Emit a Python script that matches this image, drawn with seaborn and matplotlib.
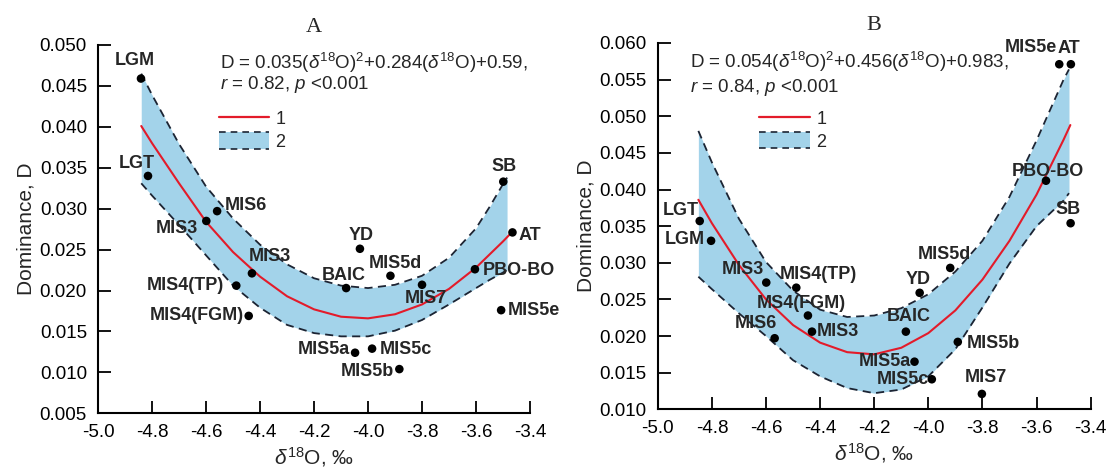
import numpy as np
import matplotlib
matplotlib.use("Agg")
import matplotlib.pyplot as plt
import seaborn as sns
from matplotlib.lines import Line2D
from matplotlib.patches import Patch, Rectangle
from matplotlib.legend_handler import HandlerBase

# ---------------- data ----------------
x_ticks = [-5.0, -4.8, -4.6, -4.4, -4.2, -4.0, -3.8, -3.6, -3.4]
yticks_a = [0.005, 0.010, 0.015, 0.020, 0.025, 0.030, 0.035, 0.040, 0.045, 0.050]
yticks_b = [0.010, 0.015, 0.020, 0.025, 0.030, 0.035, 0.040, 0.045, 0.050, 0.055, 0.060]

labels_a = ["LGM", "LGT", "MIS6", "MIS3", "MIS3", "MIS4(TP)", "MIS4(FGM)", "YD", "MIS5d",
            "BAIC", "MIS7", "PBO-BO", "MIS5e", "MIS5a", "MIS5c", "MIS5b", "SB", "AT"]
x_a = [-4.841, -4.815, -4.559, -4.599, -4.430, -4.488, -4.442, -4.030, -3.917,
       -4.081, -3.800, -3.604, -3.507, -4.048, -3.985, -3.884, -3.499, -3.465]
d_a = [0.0459, 0.0340, 0.0297, 0.0285, 0.0221, 0.0206, 0.0169, 0.0251, 0.0218,
       0.0203, 0.0207, 0.0226, 0.0176, 0.0124, 0.0129, 0.0104, 0.0333, 0.0271]

band_x_a = [-4.84, -4.80, -4.70, -4.60, -4.50, -4.40, -4.30, -4.20, -4.10, -4.00,
            -3.90, -3.80, -3.70, -3.60, -3.55, -3.50, -3.485]
upper_a = [0.0465, 0.0439, 0.0379, 0.0327, 0.0288, 0.0256, 0.0232, 0.0215, 0.0206, 0.0203,
           0.0207, 0.0218, 0.0240, 0.0276, 0.0302, 0.0330, 0.0338]
lower_a = [0.0331, 0.0316, 0.0280, 0.0243, 0.0206, 0.0179, 0.0158, 0.0148, 0.0144, 0.0144,
           0.0151, 0.0164, 0.0183, 0.0203, 0.0213, 0.0222, 0.0225]
fit_x_a = [-4.84, -4.80, -4.70, -4.60, -4.50, -4.40, -4.30, -4.20, -4.10, -4.00,
           -3.90, -3.80, -3.70, -3.60, -3.50, -3.465]
fit_a = [0.0401, 0.0380, 0.0331, 0.0284, 0.0247, 0.0217, 0.0193, 0.0177, 0.0168, 0.0166,
         0.0171, 0.0183, 0.0202, 0.0228, 0.0260, 0.0272]

labels_b = ["LGT", "LGM", "MIS3", "MIS4(TP)", "MS4(FGM)", "MIS3", "MIS6", "YD", "MIS5d",
            "BAIC", "MIS5b", "MIS5a", "MIS5c", "MIS7", "PBO-BO", "SB", "MIS5e", "AT"]
x_b = [-4.845, -4.803, -4.599, -4.488, -4.445, -4.430, -4.568, -4.032, -3.919,
       -4.083, -3.891, -4.051, -3.987, -3.802, -3.565, -3.474, -3.516, -3.473]
d_b = [0.0357, 0.0330, 0.0273, 0.0266, 0.0228, 0.0206, 0.0197, 0.0259, 0.0293,
       0.0206, 0.0192, 0.0165, 0.0141, 0.0121, 0.0412, 0.0354, 0.0571, 0.0571]

band_x_b = [-4.85, -4.80, -4.70, -4.60, -4.50, -4.40, -4.30, -4.20, -4.10, -4.00,
            -3.90, -3.80, -3.70, -3.60, -3.50, -3.48]
upper_b = [0.0480, 0.0437, 0.0360, 0.0301, 0.0262, 0.0236, 0.0226, 0.0228, 0.0238, 0.0257,
           0.0288, 0.0330, 0.0390, 0.0467, 0.0550, 0.0564]
lower_b = [0.0281, 0.0264, 0.0231, 0.0200, 0.0167, 0.0145, 0.0129, 0.0122, 0.0127, 0.0145,
           0.0182, 0.0239, 0.0299, 0.0350, 0.0385, 0.0395]
fit_x_b = [-4.85, -4.80, -4.70, -4.60, -4.50, -4.40, -4.30, -4.20, -4.10, -4.00,
           -3.90, -3.80, -3.70, -3.60, -3.50, -3.475]
fit_b = [0.0386, 0.0354, 0.0297, 0.0250, 0.0215, 0.0191, 0.0178, 0.0175, 0.0184, 0.0204,
         0.0235, 0.0277, 0.0330, 0.0393, 0.0468, 0.0488]

eq_a = [r"D = 0.035($\delta^{18}$O)$^{2}$+0.284($\delta^{18}$O)+0.59,",
        r"$r$ = 0.82, $p$ <0.001"]
eq_b = [r"D = 0.054($\delta^{18}$O)$^{2}$+0.456($\delta^{18}$O)+0.983,",
        r"$r$ = 0.84, $p$ <0.001"]
legend_labels = ["1", "2"]

# ---------------- label placement (style, image-pixel offsets) ----------------
place_a = [("center", -6, -18), ("center", -11, -12), ("left", 8, -6), ("right", -8, 8),
           ("left", -3, -17), ("right", -12, 0), ("right", -5, 0), ("center", 1, -13),
           ("center", 5, -12), ("center", -2, -13), ("center", 4, 14), ("left", 8, 1),
           ("left", 7, 0), ("right", -5, -3), ("left", 8, 1), ("right", -5, 2),
           ("center", 1, -15), ("left", 6, 3)]
place_b = [("right", -1, -11), ("right", -6, -1), ("right", -2, -13), ("left", -17, -13),
           ("center", -7, -12), ("left", 5, 0), ("right", 2, -15), ("center", -1, -13),
           ("center", -6, -13), ("center", 3, -15), ("left", 9, 2), ("right", -4, 0),
           ("right", -3, 0), ("center", 4, -16), ("center", 2, -9), ("center", -3, -14),
           ("right", -2, -17), ("center", -2, -16)]

BAND = "#a3d3ea"
RED = "#e31b2a"
DASH = "#1c2433"

sns.set_style("ticks")
plt.rcParams["font.family"] = ["Liberation Sans", "DejaVu Sans"]
plt.rcParams["mathtext.fontset"] = "custom"
plt.rcParams["mathtext.rm"] = "Liberation Sans"
plt.rcParams["mathtext.it"] = "Liberation Sans:italic"
plt.rcParams["mathtext.bf"] = "Liberation Sans:bold"
plt.rcParams["axes.unicode_minus"] = False


class BandHandler(HandlerBase):
    def create_artists(self, legend, orig_handle, xdescent, ydescent, width, height,
                       fontsize, trans):
        x0, y0 = -xdescent, -ydescent
        rect = Rectangle((x0, y0), width, height, facecolor=BAND, edgecolor="none",
                         transform=trans)
        top = Line2D([x0, x0 + width], [y0 + height] * 2, color=DASH, lw=1.2,
                     linestyle=(0, (4, 3)), transform=trans)
        bot = Line2D([x0, x0 + width], [y0] * 2, color=DASH, lw=1.2,
                     linestyle=(0, (4, 3)), transform=trans)
        return [rect, top, bot]


def draw(ax, bx, up, lo, fx, fy, px, py, labs, place, yticks, title, eq, eqpos, legpos):
    ax.fill_between(bx, lo, up, color=BAND, lw=0, zorder=1)
    sns.lineplot(x=bx, y=up, ax=ax, color=DASH, lw=1.3, linestyle=(0, (4.5, 3)),
                 sort=False, zorder=2)
    sns.lineplot(x=bx, y=lo, ax=ax, color=DASH, lw=1.3, linestyle=(0, (4.5, 3)),
                 sort=False, zorder=2)
    sns.lineplot(x=fx, y=fy, ax=ax, color=RED, lw=1.5, sort=False, zorder=3)
    sns.scatterplot(x=px, y=py, ax=ax, color="black", s=38, edgecolor="none",
                    zorder=4, legend=False)
    for lab, x, y, (ha, dx, dy) in zip(labs, px, py, place):
        ax.annotate(lab, (x, y), xytext=(dx, -dy), textcoords="offset pixels",
                    ha=ha, va="center", fontsize=13, fontweight="bold", zorder=5)
    ax.set_xlim(x_ticks[0], x_ticks[-1])
    ax.set_ylim(yticks[0], yticks[-1])
    ax.set_xticks(x_ticks)
    ax.set_xticklabels([f"{v:.1f}" for v in x_ticks])
    ax.set_yticks(yticks)
    ax.set_yticklabels([f"{v:.3f}" for v in yticks])
    ax.tick_params(direction="in", length=9, width=1.3, labelsize=13.5, pad=8, colors="black")
    for s in ["left", "bottom"]:
        ax.spines[s].set_linewidth(1.5)
        ax.spines[s].set_color("black")
    sns.despine(ax=ax)
    ax.set_xlabel(r"$\delta^{18}$O, ‰", fontsize=15, labelpad=3)
    ax.set_ylabel("Dominance, D", fontsize=15, labelpad=3)
    ax.set_title(title, fontfamily="Liberation Serif", fontsize=16, pad=9)
    ax.text(eqpos[0], eqpos[1], eq[0], transform=ax.transAxes, fontsize=13.5,
            ha="left", va="center")
    ax.text(eqpos[0], eqpos[2], eq[1], transform=ax.transAxes, fontsize=13.5,
            ha="left", va="center")
    red_h = Line2D([], [], color=RED, lw=1.6)
    band_h = Patch(facecolor=BAND)
    ax.legend([red_h, band_h], legend_labels, handler_map={band_h: BandHandler()},
              loc="upper left", bbox_to_anchor=legpos, frameon=False, fontsize=13,
              handlelength=2.8, handleheight=1.0, handletextpad=0.35,
              labelspacing=0.22, borderpad=0, borderaxespad=0)


fig = plt.figure(figsize=(11.13, 4.75), dpi=100)
fig.patch.set_facecolor("white")
axA = fig.add_axes([0.0881, 0.1299, 0.3881, 0.7754])
axB = fig.add_axes([0.5910, 0.1383, 0.3889, 0.7712])

draw(axA, band_x_a, upper_a, lower_a, fit_x_a, fit_a, x_a, d_a, labels_a, place_a,
     yticks_a, "A", eq_a, (0.283, 0.950, 0.892), (0.279, 0.823))
draw(axB, band_x_b, upper_b, lower_b, fit_x_b, fit_b, x_b, d_b, labels_b, place_b,
     yticks_b, "B", eq_b, (0.075, 0.948, 0.879), (0.2345, 0.817))

fig.savefig("out.png", dpi=100, facecolor="white")
